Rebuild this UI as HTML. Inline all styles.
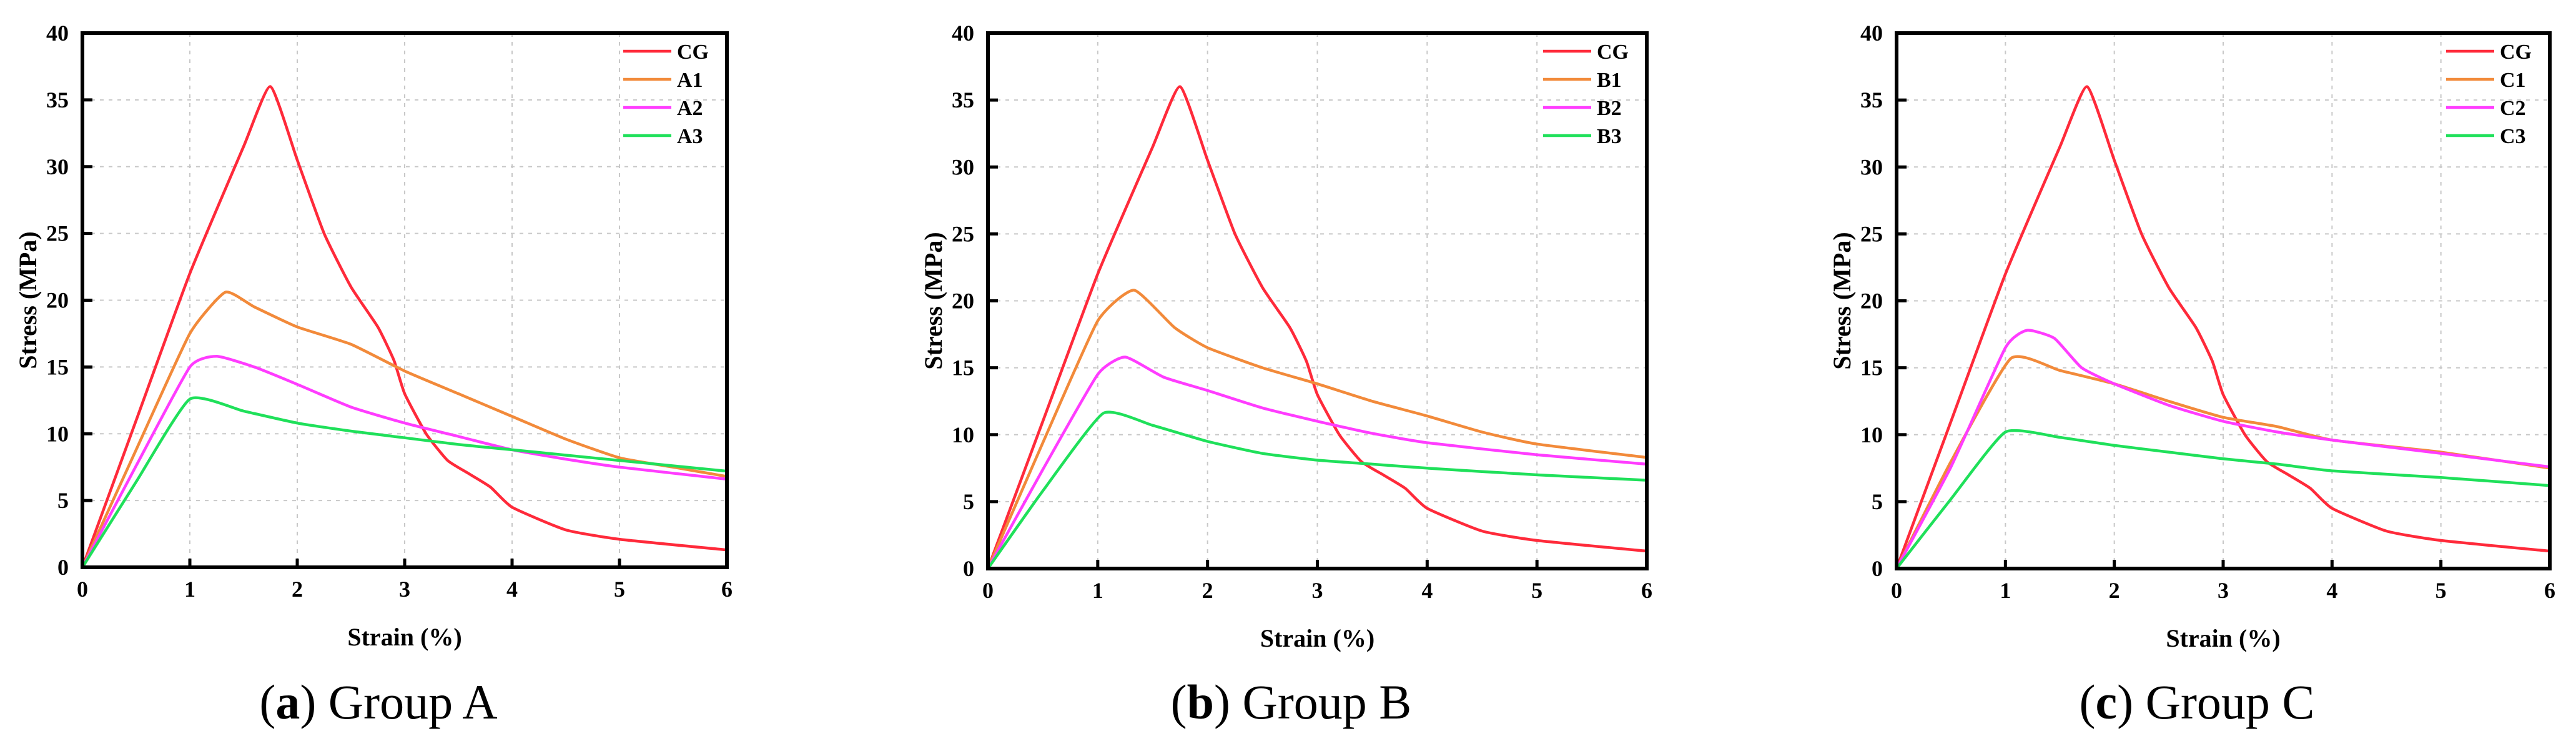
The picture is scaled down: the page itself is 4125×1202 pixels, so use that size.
<!DOCTYPE html>
<html><head><meta charset="utf-8"><style>
html,body{margin:0;padding:0;background:#fff;width:4125px;height:1202px;overflow:hidden}
svg{display:block}
text{font-family:"Liberation Serif",serif}
</style></head><body>
<svg id="fig" width="4125" height="1202" xmlns="http://www.w3.org/2000/svg"></svg>
<script>
const xTicks=[0,1,2,3,4,5,6];
const yTicks=[0,5,10,15,20,25,30,35,40];
const cgX=[0,0.5,1,1.5,1.75,2,2.25,2.5,2.75,2.9,3,3.2,3.4,3.6,3.8,4,4.5,5,6];
const cgY=[0,11,22,31.5,36,30.5,25,21,18,15.5,13,10,8,7,6,4.5,2.8,2.1,1.3];
const a1X=[0,0.5,1,1.33,1.6,2,2.5,3,3.5,4,4.5,5,5.5,6];
const a1Y=[0,8.8,17.5,20.6,19.5,18,16.7,14.7,13,11.3,9.6,8.2,7.5,6.8];
const a2X=[0,0.5,1,1.25,1.6,2,2.5,3,3.5,4,4.5,5,6];
const a2Y=[0,7.6,15,15.8,15,13.7,12,10.8,9.8,8.8,8.1,7.5,6.6];
const a3X=[0,0.5,1,1.5,2,2.5,3,3.5,4,4.5,5,6];
const a3Y=[0,6.4,12.6,11.7,10.8,10.2,9.7,9.2,8.8,8.4,8,7.2];
const b1X=[0,0.5,1,1.33,1.7,2,2.5,3,3.5,4,4.5,5,6];
const b1Y=[0,9.4,18.5,20.8,18,16.5,15,13.8,12.5,11.4,10.2,9.3,8.3];
const b2X=[0,0.5,1,1.25,1.6,2,2.5,3,3.5,4,5,6];
const b2Y=[0,7.4,14.5,15.8,14.3,13.3,12,11,10.1,9.4,8.5,7.8];
const b3X=[0,0.5,1.05,1.5,2,2.5,3,3.5,4,5,6];
const b3Y=[0,5.8,11.6,10.7,9.5,8.6,8.1,7.8,7.5,7,6.6];
const c1X=[0,0.5,1.05,1.5,2,2.5,3,3.5,4,5,6];
const c1Y=[0,8,15.7,14.8,13.8,12.5,11.3,10.6,9.6,8.7,7.5];
const c2X=[0,0.5,1,1.2,1.45,1.7,2,2.5,3,3.5,4,5,6];
const c2Y=[0,7.6,16.5,17.8,17.2,15,13.8,12.2,11,10.2,9.6,8.6,7.6];
const c3X=[0,0.5,1,1.5,2,2.5,3,3.5,4,5,6];
const c3Y=[0,5.2,10.2,9.8,9.2,8.7,8.2,7.8,7.3,6.8,6.2];
const seriesColors=["#ff2a3a","#f28a3a","#ff3cff","#1fe05a"];

const NS="http://www.w3.org/2000/svg";
const svg=document.getElementById('fig');
function mk(tag,attrs,parent){const e=document.createElementNS(NS,tag);for(const k in attrs)e.setAttribute(k,attrs[k]);(parent||svg).appendChild(e);return e;}

const panels=[
 {key:"a",L:132,R:1164,T:53,B:908,cap:"Group A",names:["CG","A1","A2","A3"],xs:[cgX,a1X,a2X,a3X],ys:[cgY,a1Y,a2Y,a3Y]},
 {key:"b",L:1582,R:2637,T:53,B:910,cap:"Group B",names:["CG","B1","B2","B3"],xs:[cgX,b1X,b2X,b3X],ys:[cgY,b1Y,b2Y,b3Y]},
 {key:"c",L:3037,R:4083,T:53,B:910,cap:"Group C",names:["CG","C1","C2","C3"],xs:[cgX,c1X,c2X,c3X],ys:[cgY,c1Y,c2Y,c3Y]}
];

function smoothPath(px,py){
 let d="M"+px[0].toFixed(1)+","+py[0].toFixed(1);
 const k=0.5;
 for(let i=0;i<px.length-1;i++){
  const x0=px[Math.max(i-1,0)],y0=py[Math.max(i-1,0)];
  const x1=px[i],y1=py[i],x2=px[i+1],y2=py[i+1];
  const x3=px[Math.min(i+2,px.length-1)],y3=py[Math.min(i+2,px.length-1)];
  const c1x=x1+(x2-x0)/6*k,c1y=y1+(y2-y0)/6*k;
  const c2x=x2-(x3-x1)/6*k,c2y=y2-(y3-y1)/6*k;
  d+=" C"+c1x.toFixed(1)+","+c1y.toFixed(1)+" "+c2x.toFixed(1)+","+c2y.toFixed(1)+" "+x2.toFixed(1)+","+y2.toFixed(1);
 }
 return d;
}

panels.forEach(p=>{
 const g=mk('g',{});
 
 
 const sx=v=>p.L+(v-0)/(6-0)*(p.R-p.L);
 const sy=v=>p.B-(v-0)/(40-0)*(p.B-p.T);
 xTicks.forEach(t=>{
  if(t===0||t===6)return;
  const l=mk('line',{x1:sx(t),x2:sx(t),y1:p.T,y2:p.B,stroke:"#c8c8c8","stroke-width":2,"stroke-dasharray":"6 8"},g);
  
  
 });
 yTicks.forEach(t=>{
  if(t===0||t===40)return;
  const l=mk('line',{x1:p.L,x2:p.R,y1:sy(t),y2:sy(t),stroke:"#c8c8c8","stroke-width":2,"stroke-dasharray":"6 8"},g);
  
  
 });
 p.xs.forEach((xa,si)=>{
  const px=xa.map(sx),py=p.ys[si].map(sy);
  const path=mk('path',{d:smoothPath(px,py),fill:"none",stroke:seriesColors[si],"stroke-width":4.5,"stroke-linejoin":"round"},g);
  
  
 });
 const fr=mk('rect',{x:p.L,y:p.T,width:p.R-p.L,height:p.B-p.T,fill:"none",stroke:"#000","stroke-width":6},g);
 
 
 xTicks.forEach(t=>{
  const tk=mk('line',{x1:sx(t),x2:sx(t),y1:p.B,y2:p.B-14,stroke:"#000","stroke-width":5},g);
  
  
  const tx=mk('text',{x:sx(t),y:p.B+47,"text-anchor":"middle","font-size":36,"font-weight":"bold"},g);
  tx.textContent=t;
  
  
 });
 yTicks.forEach(t=>{
  const tk=mk('line',{x1:p.L,x2:p.L+16,y1:sy(t),y2:sy(t),stroke:"#000","stroke-width":5},g);
  
  
  const tx=mk('text',{x:p.L-22,y:sy(t)+12,"text-anchor":"end","font-size":36,"font-weight":"bold"},g);
  tx.textContent=t;
  
  
 });
 const xt=mk('text',{x:(p.L+p.R)/2,y:p.B+125,"text-anchor":"middle","font-size":40,"font-weight":"bold"},g);
 xt.textContent="Strain (%)";
 
 
 const yc=(p.T+p.B)/2, yx=p.L-88;
 const yt=mk('text',{x:yx,y:yc,"text-anchor":"middle","font-size":40,"font-weight":"bold",transform:"rotate(-90 "+yx+" "+yc+") translate(0 14)"},g);
 yt.textContent="Stress (MPa)";
 
 
 p.names.forEach((n,i)=>{
  const ly=p.T+29+i*45;
  const ll=mk('line',{x1:p.R-166,x2:p.R-89,y1:ly,y2:ly,stroke:seriesColors[i],"stroke-width":4.5},g);
  
  
  const lt=mk('text',{x:p.R-80,y:ly+12,"font-size":34,"font-weight":"bold"},g);
  lt.textContent=n;
  
  
 });
 const cap=mk('text',{x:(p.L+p.R)/2-42,y:1150,"text-anchor":"middle","font-size":78},g);
 
 
 const t1=mk('tspan',{},cap);t1.textContent="(";
 const t2=mk('tspan',{"font-weight":"bold"},cap);t2.textContent=p.key;
 const t3=mk('tspan',{},cap);t3.textContent=") "+p.cap;
});
</script>
</body></html>
